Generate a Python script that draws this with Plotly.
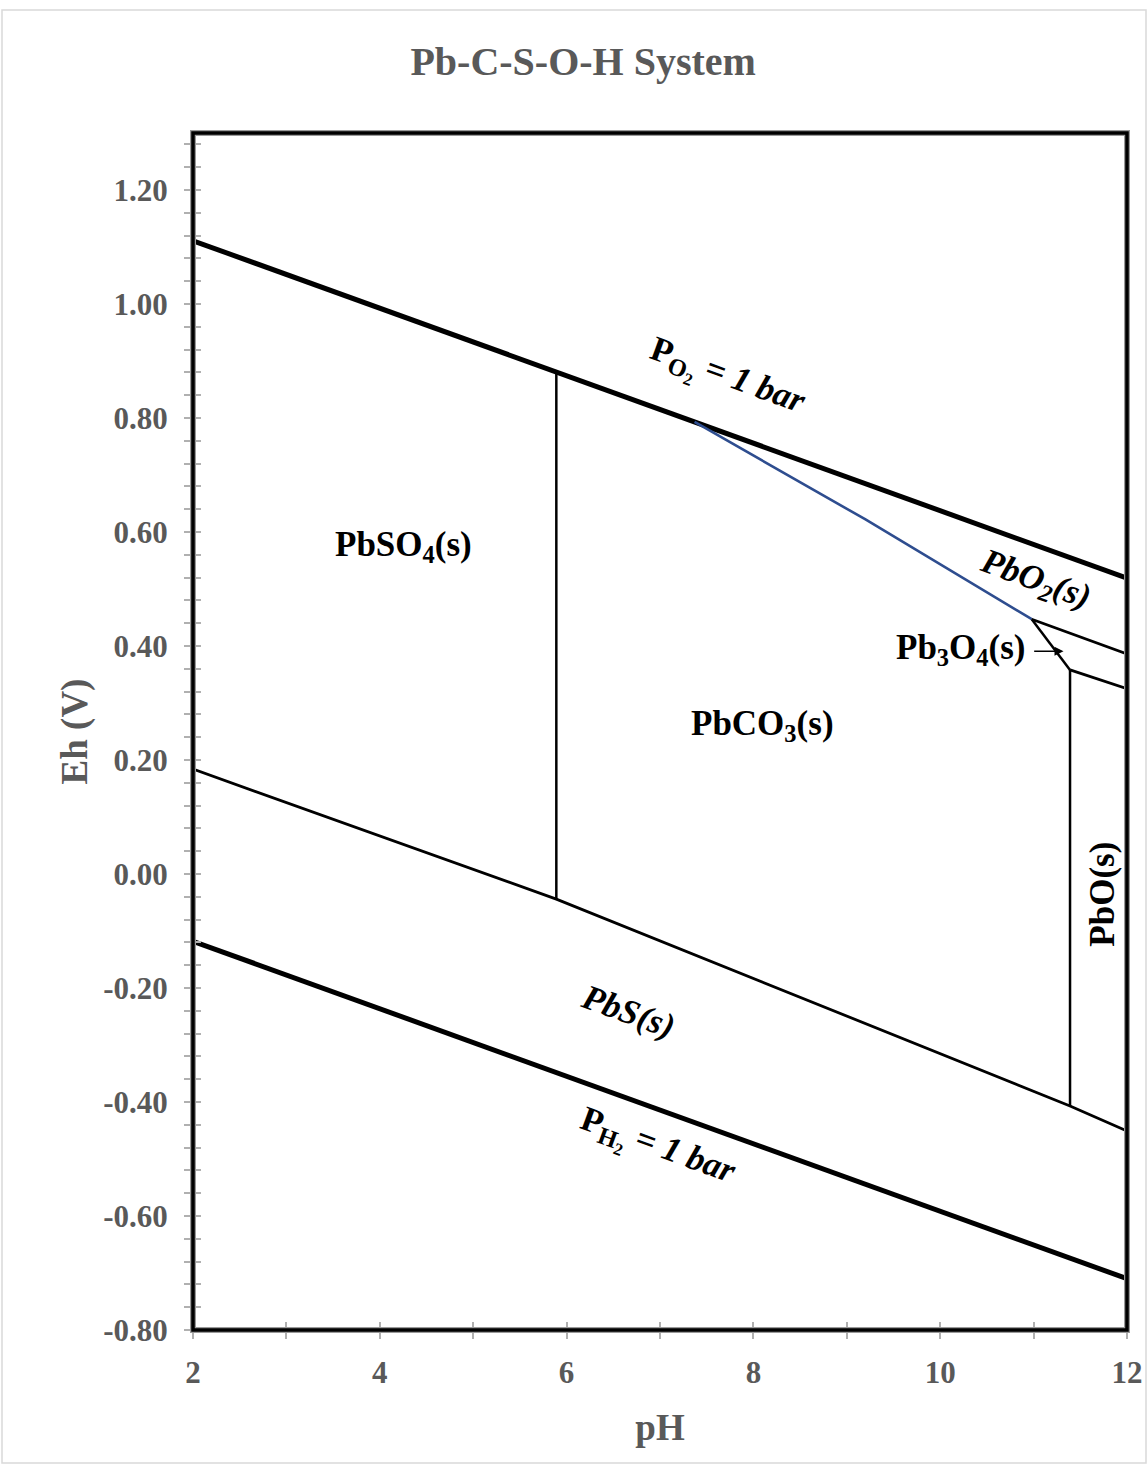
import plotly.graph_objects as go

# ---- data (pH, Eh in V) ----
ph_o2 = [2, 12]
eh_o2 = [1.111, 0.519]
ph_h2 = [2, 12]
eh_h2 = [-0.118, -0.710]
ph_sulfide = [2, 5.89, 11.39, 12]
eh_sulfide = [0.184, -0.044, -0.407, -0.451]
ph_so4_co3 = [5.89, 5.89]
eh_so4_co3 = [0.880, -0.044]
ph_co3_pbo = [11.39, 11.39]
eh_co3_pbo = [0.358, -0.407]
ph_co3_pbo2 = [7.37, 9.2, 10.98]
eh_co3_pbo2 = [0.793, 0.622, 0.447]
ph_pbo2_pb3o4 = [10.98, 12]
eh_pbo2_pb3o4 = [0.447, 0.386]
ph_co3_pb3o4 = [10.98, 11.39]
eh_co3_pb3o4 = [0.447, 0.358]
ph_pb3o4_pbo = [11.39, 12]
eh_pb3o4_pbo = [0.358, 0.325]

y_tickvals = [-0.8, -0.6, -0.4, -0.2, 0.0, 0.2, 0.4, 0.6, 0.8, 1.0, 1.2]
y_ticktext = ["-0.80", "-0.60", "-0.40", "-0.20", "0.00", "0.20", "0.40", "0.60", "0.80", "1.00", "1.20"]
x_tickvals = [2, 4, 6, 8, 10, 12]
x_ticktext = ["2", "4", "6", "8", "10", "12"]

# labels: text, pH, Eh, angle
labels = [
    ("PbSO<sub>4</sub>(s)", 4.25, 0.574, 0),
    ("PbCO<sub>3</sub>(s)", 8.10, 0.260, 0),
    ("<i>PbS(s)</i>", 6.66, -0.242, 20),
    ("<i>PbO<sub>2</sub>(s)</i>", 11.02, 0.515, 20),
    ("Pb<sub>3</sub>O<sub>4</sub>(s)", 10.22, 0.393, 0),
    ("PbO(s)", 11.74, -0.035, -90),
    ("P<sub>O<sub>2</sub></sub> <i>= 1 bar</i>", 7.72, 0.870, 20),
    ("P<sub>H<sub>2</sub></sub> <i>= 1 bar</i>", 6.97, -0.482, 20),
]

FONT = "Liberation Serif"
GRAY = "#595959"

fig = go.Figure()

def add_line(x, y, width, color="black"):
    fig.add_trace(go.Scatter(x=x, y=y, mode="lines",
                             line=dict(color=color, width=width),
                             showlegend=False, hoverinfo="skip"))

add_line(ph_o2, eh_o2, 5)
add_line(ph_h2, eh_h2, 5)
add_line(ph_sulfide, eh_sulfide, 2.8)
add_line(ph_so4_co3, eh_so4_co3, 2.5)
add_line(ph_co3_pbo, eh_co3_pbo, 2.5)
add_line(ph_co3_pbo2, eh_co3_pbo2, 2.6, "#2E4D8F")
add_line(ph_pbo2_pb3o4, eh_pbo2_pb3o4, 2.8)
add_line(ph_co3_pb3o4, eh_co3_pb3o4, 2.5)
add_line(ph_pb3o4_pbo, eh_pb3o4_pbo, 2.8)

# invisible trace for overlay axes (cross ticks)
fig.add_trace(go.Scatter(x=[2], y=[0], xaxis="x2", yaxis="y2", mode="markers",
                         marker=dict(opacity=0), showlegend=False, hoverinfo="skip"))

for txt, x, y, ang in labels:
    fig.add_annotation(x=x, y=y, text=txt, showarrow=False, textangle=ang,
                       font=dict(family=FONT, size=35, color="black", weight="bold"))

# arrow for Pb3O4
fig.add_annotation(x=11.32, y=0.391, ax=10.99, ay=0.391, axref="x", ayref="y",
                   text="", showarrow=True, arrowhead=2, arrowsize=1.2,
                   arrowwidth=1.5, arrowcolor="black")

tickfont = dict(family=FONT, size=31, color=GRAY, weight="bold")
fig.update_layout(
    width=1148, height=1464,
    margin=dict(l=193, r=21, t=133, b=134, autoexpand=False),
    paper_bgcolor="white", plot_bgcolor="white",
    title=dict(text="Pb-C-S-O-H System", x=0.508, xref="container", y=0.958,
               yref="container", xanchor="center", yanchor="middle",
               font=dict(family=FONT, size=40, color=GRAY, weight="bold")),
    xaxis=dict(range=[2, 12], tickvals=x_tickvals, ticktext=x_ticktext,
               automargin=False,
               showgrid=False, zeroline=False, showline=False,
               ticks="outside", ticklen=8, tickcolor="#b0b0b0", tickwidth=1.5,
               minor=dict(dtick=1, tick0=2, ticks="outside", ticklen=8,
                          tickcolor="#b0b0b0", tickwidth=1.5, showgrid=False),
               tickfont=tickfont, ticklabelstandoff=7,
               title=dict(text="pH", standoff=24,
                          font=dict(family=FONT, size=37, color=GRAY, weight="bold"))),
    yaxis=dict(range=[-0.8, 1.3], tickvals=y_tickvals, ticktext=y_ticktext,
               automargin=False,
               showgrid=False, zeroline=False, showline=False,
               ticks="outside", ticklen=8, tickcolor="#b0b0b0", tickwidth=1.5,
               minor=dict(dtick=0.04, tick0=-0.8, ticks="outside", ticklen=8,
                          tickcolor="#b0b0b0", tickwidth=1.5, showgrid=False),
               tickfont=tickfont, ticklabelstandoff=10,
               title=dict(text="Eh (V)", standoff=4,
                          font=dict(family=FONT, size=37, color=GRAY, weight="bold"))),
    xaxis2=dict(range=[2, 12], overlaying="x", anchor="y2", side="bottom",
                tickvals=x_tickvals, showticklabels=False, showgrid=False,
                zeroline=False, showline=False, ticks="inside", ticklen=8,
                tickcolor="#b0b0b0", tickwidth=1.5,
                minor=dict(dtick=1, tick0=2, ticks="inside", ticklen=8,
                           tickcolor="#b0b0b0", tickwidth=1.5)),
    yaxis2=dict(range=[-0.8, 1.3], overlaying="y", anchor="x2", side="left",
                tickvals=y_tickvals, showticklabels=False, showgrid=False,
                zeroline=False, showline=False, ticks="inside", ticklen=8,
                tickcolor="#b0b0b0", tickwidth=1.5,
                minor=dict(dtick=0.04, tick0=-0.8, ticks="inside", ticklen=8,
                           tickcolor="#b0b0b0", tickwidth=1.5)),
)

# plot frame: gray outer edge with black core
fig.add_shape(type="rect", xref="paper", yref="paper", x0=0, y0=0, x1=1, y1=1,
              line=dict(color="#9a9a9a", width=6), layer="above")
fig.add_shape(type="rect", xref="paper", yref="paper", x0=0, y0=0, x1=1, y1=1,
              line=dict(color="black", width=3.5), layer="above")
# outer chart border
fig.add_shape(type="rect", xref="paper", yref="paper",
              x0=(2 - 193) / 934, x1=(1146 - 193) / 934,
              y0=(1330 - 1463) / 1197, y1=(1330 - 10) / 1197,
              line=dict(color="#d9d9d9", width=1.5), layer="below")

fig.write_html("out.html")
